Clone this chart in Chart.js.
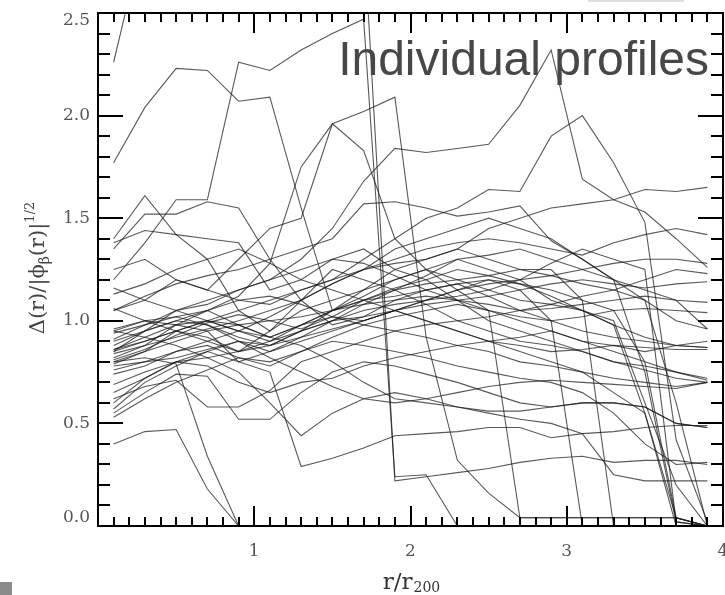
<!DOCTYPE html>
<html>
<head>
<meta charset="utf-8">
<script src="https://cdn.jsdelivr.net/npm/chart.js@4.4.1/dist/chart.umd.min.js"></script>
<style>
  html, body { margin: 0; padding: 0; background: #fff; }
</style>
</head>
<body>
<canvas id="profilesChart" width="725" height="595"></canvas>
<script>
// radial bins (r/r200) shared by every profile
const radii = [0.1, 0.3, 0.5, 0.7, 0.9, 1.1, 1.3, 1.5, 1.7, 1.9, 2.1, 2.3, 2.5, 2.7, 2.9, 3.1, 3.3, 3.5, 3.7, 3.9];

// one row per cluster profile
const profiles = [
  [2.26, 2.90, 3.05, 3.10, 3.10, 3.05, 3.00, 2.95, 2.90, 0.22, 0.24, 0.26, 0.28, 0.31, 0.33, 0.34, 0.31, 0.32, 0.32, 0.30],
  [1.20, 1.38, 1.59, 1.59, 2.26, 2.22, 2.32, 2.40, 2.47, 0.24, 0.25, 0.00, 0.00, 0.00, 0.00, 0.00, 0.00, 0.00, 0.00, 0.00],
  [1.77, 2.04, 2.23, 2.22, 2.07, 2.09, 1.55, 1.05, 1.10, 1.15, 1.08, 1.00, 0.95, 0.90, 0.88, 0.85, 0.80, 0.78, 0.75, 0.72],
  [1.35, 1.52, 1.52, 1.58, 1.55, 1.30, 1.10, 0.98, 1.02, 1.10, 1.15, 1.18, 1.12, 1.05, 1.00, 0.95, 0.92, 0.90, 0.88, 0.87],
  [1.40, 1.61, 1.42, 1.30, 1.05, 0.95, 1.10, 1.25, 1.20, 1.15, 1.22, 1.30, 1.25, 1.20, 1.10, 1.05, 1.00, 0.60, 0.20, 0.00],
  [1.38, 1.44, 1.42, 1.40, 1.38, 1.15, 1.20, 1.30, 1.35, 1.25, 1.20, 1.10, 1.05, 1.00, 0.95, 0.90, 0.85, 0.80, 0.75, 0.71],
  [0.90, 0.95, 1.00, 1.05, 1.12, 1.28, 1.75, 1.96, 2.02, 2.09, 0.92, 0.32, 0.16, 0.04, 0.04, 0.04, 0.04, 0.04, 0.04, 0.00],
  [1.05, 1.10, 1.20, 1.15, 1.30, 1.45, 1.50, 1.96, 1.83, 1.40, 1.25, 1.20, 1.15, 1.10, 1.08, 1.12, 1.15, 1.20, 1.25, 1.23],
  [0.85, 0.95, 1.05, 1.10, 1.15, 1.20, 1.30, 1.45, 1.68, 1.84, 1.82, 1.84, 1.86, 2.05, 2.32, 1.69, 1.59, 1.53, 1.40, 1.26],
  [0.80, 0.85, 0.95, 1.00, 1.05, 1.10, 1.15, 1.20, 1.30, 1.40, 1.50, 1.55, 1.64, 1.63, 1.90, 2.00, 1.77, 1.48, 0.42, 0.02],
  [0.95, 1.00, 0.98, 1.05, 1.10, 1.08, 1.15, 1.20, 1.25, 1.28, 1.30, 1.35, 1.45, 1.50, 1.55, 1.57, 1.59, 1.64, 1.63, 1.65],
  [1.05, 1.12, 1.18, 1.22, 1.25, 1.30, 1.35, 1.40, 1.57, 1.58, 1.55, 1.51, 1.53, 1.56, 1.39, 1.30, 1.20, 1.10, 1.00, 0.96],
  [0.40, 0.46, 0.47, 0.18, 0.00, 0.00, 0.00, 0.00, 0.00, 0.00, 0.00, 0.00, 0.00, 0.00, 0.00, 0.00, 0.00, 0.00, 0.00, 0.00],
  [0.80, 0.82, 0.79, 0.34, 0.00, 0.00, 0.00, 0.00, 0.00, 0.00, 0.00, 0.00, 0.00, 0.00, 0.00, 0.00, 0.00, 0.00, 0.00, 0.00],
  [0.62, 0.68, 0.71, 0.58, 0.58, 0.66, 0.80, 0.85, 0.90, 0.95, 0.92, 0.88, 0.85, 0.80, 0.78, 0.75, 0.72, 0.70, 0.68, 0.70],
  [0.55, 0.65, 0.74, 0.73, 0.52, 0.52, 0.65, 0.75, 0.80, 0.78, 0.74, 0.70, 0.65, 0.60, 0.58, 0.60, 0.60, 0.58, 0.50, 0.48],
  [0.60, 0.72, 0.80, 0.82, 0.75, 0.60, 0.44, 0.55, 0.62, 0.65, 0.62, 0.58, 0.55, 0.52, 0.50, 0.45, 0.25, 0.22, 0.22, 0.22],
  [0.57, 0.70, 0.78, 0.85, 0.80, 0.75, 0.29, 0.33, 0.38, 0.44, 0.45, 0.46, 0.48, 0.48, 0.43, 0.45, 0.46, 0.48, 0.49, 0.49],
  [0.85, 0.90, 0.95, 0.92, 0.85, 0.95, 1.05, 1.10, 1.15, 1.20, 1.25, 1.15, 1.05, 0.04, 0.04, 0.04, 0.04, 0.04, 0.04, 0.00],
  [0.95, 0.92, 0.88, 0.82, 0.85, 0.90, 0.98, 1.05, 1.10, 1.12, 1.15, 1.18, 1.20, 1.15, 1.00, 0.00, 0.00, 0.00, 0.00, 0.00],
  [0.82, 0.88, 0.98, 0.95, 0.80, 0.85, 0.92, 1.00, 1.08, 1.15, 1.18, 1.20, 1.22, 1.25, 1.25, 1.10, 0.00, 0.00, 0.00, 0.00],
  [0.76, 0.80, 0.85, 0.90, 0.95, 0.92, 0.98, 1.02, 1.00, 1.05, 1.10, 1.15, 1.20, 1.18, 1.15, 1.10, 1.05, 0.80, 0.04, 0.00],
  [0.88, 0.95, 1.00, 0.98, 0.92, 0.88, 0.95, 1.05, 1.15, 1.25, 1.30, 1.35, 1.30, 1.25, 1.22, 1.18, 1.15, 1.10, 0.60, 0.00],
  [1.06, 1.00, 0.95, 0.90, 0.85, 0.88, 0.95, 1.00, 1.05, 1.08, 1.10, 1.12, 1.15, 1.20, 1.28, 1.35, 1.30, 1.25, 0.02, 0.00],
  [0.91, 0.98, 1.05, 1.00, 0.95, 1.02, 1.10, 1.18, 1.25, 1.30, 1.35, 1.38, 1.40, 1.38, 1.35, 1.32, 1.38, 1.42, 1.45, 1.42],
  [0.86, 0.90, 0.95, 1.00, 0.98, 0.92, 0.98, 1.05, 1.12, 1.20, 1.25, 1.30, 1.32, 1.35, 1.30, 1.25, 1.28, 1.30, 1.30, 1.28],
  [0.96, 1.00, 1.02, 0.98, 0.90, 0.85, 0.90, 0.95, 1.00, 1.05, 1.08, 1.10, 1.12, 1.15, 1.18, 1.20, 1.18, 1.16, 1.18, 1.19],
  [0.79, 0.85, 0.90, 0.95, 0.98, 1.00, 1.02, 1.05, 1.08, 1.10, 1.12, 1.10, 1.08, 1.05, 1.06, 1.08, 1.10, 1.12, 1.10, 1.09],
  [0.74, 0.78, 0.85, 0.88, 0.82, 0.78, 0.85, 0.92, 0.98, 1.02, 1.05, 1.08, 1.05, 1.02, 1.00, 1.02, 1.05, 1.06, 1.05, 1.04],
  [0.65, 0.72, 0.80, 0.85, 0.90, 0.88, 0.92, 0.96, 1.00, 1.05, 1.00, 0.95, 0.90, 0.88, 0.85, 0.86, 0.88, 0.87, 0.86, 0.86],
  [1.16, 1.10, 1.05, 1.08, 1.15, 1.20, 1.25, 1.30, 1.28, 1.22, 1.15, 1.10, 1.00, 0.95, 0.90, 0.85, 0.80, 0.76, 0.72, 0.70],
  [1.13, 1.18, 1.25, 1.30, 1.35, 1.28, 1.20, 1.15, 1.10, 1.05, 1.00, 0.95, 0.90, 0.85, 0.80, 0.75, 0.65, 0.55, 0.04, 0.00],
  [0.84, 0.88, 0.92, 0.96, 1.00, 1.05, 1.10, 1.18, 1.25, 1.35, 1.40, 1.45, 1.50, 1.45, 1.40, 1.30, 1.20, 0.75, 0.02, 0.00],
  [0.81, 0.86, 0.93, 0.99, 1.03, 1.00, 0.96, 1.02, 1.10, 1.16, 1.20, 1.25, 1.22, 1.18, 1.12, 1.05, 0.98, 0.92, 0.88, 0.87],
  [0.69, 0.75, 0.80, 0.78, 0.70, 0.65, 0.70, 0.72, 0.78, 0.82, 0.85, 0.88, 0.90, 0.92, 0.95, 0.90, 0.88, 0.85, 0.88, 0.90],
  [0.78, 0.80, 0.82, 0.86, 0.90, 0.82, 0.75, 0.68, 0.62, 0.60, 0.62, 0.65, 0.68, 0.70, 0.71, 0.70, 0.69, 0.68, 0.67, 0.70],
  [0.94, 0.98, 1.02, 1.05, 0.98, 0.92, 0.88, 0.80, 0.70, 0.62, 0.60, 0.58, 0.56, 0.56, 0.58, 0.60, 0.60, 0.58, 0.50, 0.48],
  [0.53, 0.62, 0.70, 0.76, 0.82, 0.80, 0.85, 0.90, 0.88, 0.85, 0.82, 0.78, 0.75, 0.72, 0.70, 0.65, 0.55, 0.40, 0.30, 0.31],
  [1.25, 1.30, 1.20, 1.15, 1.10, 1.12, 1.08, 1.02, 0.98, 0.95, 0.98, 1.00, 1.02, 1.05, 1.08, 1.05, 0.98, 0.55, 0.00, 0.00],
  [0.86, 0.92, 0.98, 1.00, 0.95, 0.90, 0.95, 1.00, 1.02, 1.05, 1.10, 1.15, 1.18, 1.20, 1.22, 1.25, 1.20, 1.15, 1.10, 0.96]
];

const yTickLabels = ["0.0", "0.5", "1.0", "1.5", "2.0", "2.5"];
const xTickLabels = ["1", "2", "3", "4"];
const panelLabel = "Individual profiles";

const serif = '"DejaVu Serif", "Liberation Serif", serif';

// axes box, IDL-style ticks on all four sides, labels and the panel caption
const framePlugin = {
  id: "frame",
  afterDatasetsDraw(chart) {
    const { ctx, chartArea: a, scales } = chart;
    const x = scales.x, y = scales.y;
    ctx.save();

    ctx.strokeStyle = "#000";
    ctx.lineWidth = 2;
    ctx.beginPath();
    for (let i = 1; i < 40; i++) {
      const px = Math.round(x.getPixelForValue(i / 10));
      const len = i % 10 === 0 ? 20 : 9;
      ctx.moveTo(px, a.bottom); ctx.lineTo(px, a.bottom - len);
      ctx.moveTo(px, a.top); ctx.lineTo(px, a.top + len);
    }
    for (let i = 1; i < 25; i++) {
      const py = Math.round(y.getPixelForValue(i / 10));
      const len = i % 5 === 0 ? 25 : 12;
      ctx.moveTo(a.left, py); ctx.lineTo(a.left + len, py);
      ctx.moveTo(a.right, py); ctx.lineTo(a.right - len, py);
    }
    ctx.stroke();
    ctx.strokeRect(a.left, a.top, a.right - a.left, a.bottom - a.top);

    // tick labels
    ctx.fillStyle = "#555";
    ctx.font = "17px " + serif;
    ctx.textAlign = "right";
    ctx.textBaseline = "middle";
    yTickLabels.forEach((t) => {
      let py = y.getPixelForValue(parseFloat(t));
      py = Math.min(Math.max(py, a.top + 8), a.bottom - 8);
      ctx.fillText(t, a.left - 8, py);
    });
    ctx.textAlign = "center";
    ctx.textBaseline = "top";
    xTickLabels.forEach((t) => {
      ctx.fillText(t, x.getPixelForValue(parseFloat(t)), a.bottom + 17);
    });

    // x title: r/r_200
    ctx.fillStyle = "#333";
    ctx.textAlign = "left";
    ctx.textBaseline = "alphabetic";
    ctx.font = "23px " + serif;
    const main = "r/r";
    const w1 = ctx.measureText(main).width;
    ctx.font = "14px " + serif;
    const w2 = ctx.measureText("200").width;
    let sx = 411 - (w1 + w2) / 2;
    ctx.font = "23px " + serif;
    ctx.fillText(main, sx, 589);
    ctx.font = "14px " + serif;
    ctx.fillText("200", sx + w1 + 1, 592);

    // y title, rotated: Δ(r)/|φ_β(r)|^1/2
    ctx.fillStyle = "#444";
    ctx.translate(44, 268);
    ctx.rotate(-Math.PI / 2);
    const parts = [
      { t: "Δ(r)/|ϕ", size: 21, dy: 0 },
      { t: "β", size: 14, dy: 5 },
      { t: "(r)|", size: 21, dy: 0 },
      { t: "1/2", size: 13, dy: -10 }
    ];
    let total = 0;
    parts.forEach((p) => { ctx.font = p.size + "px " + serif; p.w = ctx.measureText(p.t).width; total += p.w; });
    let cx = -total / 2;
    parts.forEach((p) => {
      ctx.font = p.size + "px " + serif;
      ctx.fillText(p.t, cx, p.dy);
      cx += p.w;
    });
    ctx.restore();

    // panel caption
    ctx.save();
    ctx.fillStyle = "#474747";
    ctx.font = '48px "Liberation Sans", Arial, sans-serif';
    ctx.textAlign = "right";
    ctx.textBaseline = "alphabetic";
    ctx.fillText(panelLabel, 709, 75);

    // small marks along the page edges
    ctx.fillStyle = "#8a8a8a";
    ctx.fillRect(0, 582, 12, 13);
    ctx.fillStyle = "#dddddd";
    ctx.fillRect(588, 0, 96, 2);
    ctx.restore();
  }
};

const datasets = profiles.map((vals) => ({
  data: radii.map((r, i) => ({ x: r, y: vals[i] })),
  borderColor: "rgba(25, 25, 25, 0.72)",
  borderWidth: 1.1,
  pointRadius: 0,
  fill: false,
  tension: 0
}));

new Chart(document.getElementById("profilesChart"), {
  type: "line",
  data: { datasets: datasets },
  options: {
    responsive: false,
    animation: false,
    devicePixelRatio: 1,
    layout: { padding: { left: 98, right: 2, top: 13, bottom: 69 } },
    plugins: {
      legend: { display: false },
      tooltip: { enabled: false },
      title: { display: false }
    },
    scales: {
      x: { type: "linear", min: 0, max: 4, display: false },
      y: { type: "linear", min: 0, max: 2.5, display: false }
    }
  },
  plugins: [framePlugin]
});
</script>
</body>
</html>
